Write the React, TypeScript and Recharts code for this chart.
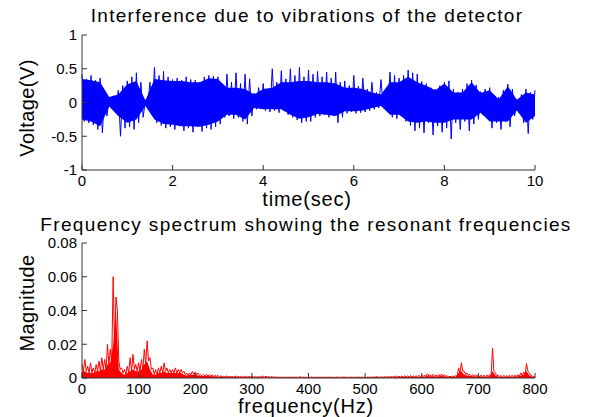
import { ComposedChart, Area, Line, XAxis, YAxis } from 'recharts';

// vibration signal, read at 0.1 s steps: tips of the spikes above and below (V)
const TIME_STEP = 0.1;
const SIGNAL_HIGH = [
  0.42, 0.35, 0.4, 0.33, 0.36, 0.15, 0.08, 0.1, 0.18, 0.25,
  0.32, 0.38, 0.44, 0.3, 0.04, 0.3, 0.52, 0.4, 0.46, 0.38,
  0.34, 0.36, 0.33, 0.38, 0.34, 0.33, 0.3, 0.38, 0.4, 0.39,
  0.38, 0.22, 0.42, 0.3, 0.44, 0.28, 0.42, 0.35, 0.14, 0.22,
  0.28, 0.2, 0.5, 0.3, 0.47, 0.35, 0.5, 0.4, 0.52, 0.38,
  0.48, 0.42, 0.46, 0.38, 0.45, 0.36, 0.45, 0.3, 0.32, 0.25,
  0.4, 0.24, 0.36, 0.2, 0.3, 0.15, 0.34, 0.18, 0.45, 0.4,
  0.36, 0.4, 0.48, 0.44, 0.42, 0.31, 0.28, 0.22, 0.2, 0.25,
  0.3, 0.32, 0.2, 0.15, 0.2, 0.28, 0.33, 0.26, 0.16, 0.2,
  0.22, 0.1, 0.08, 0.18, 0.27, 0.2, 0.04, 0.12, 0.2, 0.15,
  0.18,
];
const SIGNAL_LOW = [
  -0.28, -0.3, -0.33, -0.4, -0.45, -0.2, -0.08, -0.1, -0.5, -0.38,
  -0.36, -0.4, -0.3, -0.22, -0.06, -0.18, -0.3, -0.34, -0.38, -0.36,
  -0.4, -0.35, -0.42, -0.38, -0.44, -0.36, -0.43, -0.38, -0.4, -0.36,
  -0.32, -0.22, -0.2, -0.24, -0.22, -0.28, -0.32, -0.2, -0.1, -0.06,
  -0.12, -0.14, -0.12, -0.15, -0.12, -0.18, -0.22, -0.26, -0.3, -0.28,
  -0.28, -0.22, -0.2, -0.18, -0.22, -0.2, -0.3, -0.22, -0.16, -0.14,
  -0.16, -0.15, -0.14, -0.12, -0.1, -0.08, -0.06, -0.08, -0.22, -0.24,
  -0.2, -0.28, -0.34, -0.42, -0.38, -0.45, -0.3, -0.48, -0.35, -0.44,
  -0.38, -0.54, -0.3, -0.4, -0.28, -0.42, -0.32, -0.25, -0.18, -0.22,
  -0.38, -0.3, -0.4, -0.28, -0.36, -0.2, -0.15, -0.3, -0.46, -0.25,
  -0.3,
];

// solid core of the trace, read at 0.2 s steps (V)
const CORE_STEP = 0.2;
const CORE_HIGH = [
  0.35, 0.33, 0.3, 0.08, 0.12, 0.27, 0.32, 0.03, 0.35, 0.33,
  0.32, 0.32, 0.3, 0.3, 0.36, 0.35, 0.22, 0.22, 0.2, 0.12,
  0.2, 0.22, 0.3, 0.3, 0.32, 0.32, 0.3, 0.3, 0.28, 0.22,
  0.22, 0.2, 0.15, 0.12, 0.3, 0.3, 0.38, 0.3, 0.25, 0.18,
  0.28, 0.15, 0.15, 0.3, 0.14, 0.18, 0.05, 0.24, 0.04, 0.15,
  0.12,
];
const CORE_LOW = [
  -0.25, -0.28, -0.35, -0.06, -0.2, -0.3, -0.25, -0.05, -0.25, -0.32,
  -0.33, -0.35, -0.35, -0.36, -0.33, -0.28, -0.18, -0.18, -0.25, -0.08,
  -0.1, -0.1, -0.1, -0.18, -0.24, -0.22, -0.17, -0.18, -0.2, -0.13,
  -0.13, -0.12, -0.08, -0.05, -0.18, -0.18, -0.28, -0.3, -0.28, -0.3,
  -0.3, -0.25, -0.25, -0.25, -0.15, -0.28, -0.28, -0.28, -0.12, -0.3,
  -0.2,
];

// spectrum, read at 5 Hz steps: peak and solid floor of the trace
const FREQ_STEP = 5;
const SPECTRUM_PEAK = [
  0.008, 0.011, 0.007, 0.009, 0.006, 0.008, 0.01, 0.012, 0.011, 0.02,
  0.017, 0.06, 0.048, 0.01, 0.006, 0.005, 0.007, 0.012, 0.014, 0.008,
  0.009, 0.011, 0.017, 0.022, 0.012, 0.006, 0.005, 0.006, 0.007, 0.009,
  0.006, 0.005, 0.005, 0.006, 0.005, 0.005, 0.004, 0.003, 0.003, 0.004,
  0.0035, 0.003, 0.002, 0.002, 0.0022, 0.002, 0.0018, 0.0015, 0.0015, 0.0012,
  0.001, 0.0012, 0.001, 0.001, 0.0012, 0.001, 0.0009, 0.001, 0.0011, 0.0009,
  0.001, 0.0008, 0.0009, 0.001, 0.0012, 0.0011, 0.0008, 0.0009, 0.0007, 0.0006,
  0.0006, 0.0005, 0.0006, 0.0005, 0.0006, 0.0005, 0.0005, 0.0008, 0.0006, 0.0005,
  0.0005, 0.0006, 0.0005, 0.0005, 0.0006, 0.0005, 0.0005, 0.0006, 0.0005, 0.0005,
  0.0006, 0.0005, 0.0006, 0.0005, 0.0005, 0.0006, 0.0005, 0.0006, 0.0005, 0.0006,
  0.0005, 0.0006, 0.0005, 0.0006, 0.0009, 0.0006, 0.0007, 0.0008, 0.0008, 0.0009,
  0.001, 0.0012, 0.001, 0.0011, 0.0013, 0.0012, 0.0014, 0.0012, 0.0013, 0.0015,
  0.0016, 0.0018, 0.0025, 0.002, 0.0022, 0.0018, 0.002, 0.0024, 0.0019, 0.0012,
  0.001, 0.0012, 0.0015, 0.006, 0.009, 0.004, 0.003, 0.0022, 0.0018, 0.002,
  0.0016, 0.0018, 0.0015, 0.0017, 0.002, 0.0176, 0.003, 0.0016, 0.0014, 0.0015,
  0.0013, 0.0016, 0.0015, 0.0018, 0.002, 0.003, 0.0035, 0.0085, 0.003, 0.0012,
  0.001,
];
const SPECTRUM_FLOOR = [
  0.004, 0.004, 0.003, 0.003, 0.003, 0.004, 0.004, 0.005, 0.005, 0.008,
  0.009, 0.02, 0.04, 0.005, 0.003, 0.002, 0.003, 0.004, 0.005, 0.004,
  0.004, 0.005, 0.008, 0.01, 0.005, 0.002, 0.002, 0.003, 0.003, 0.004,
  0.003, 0.003, 0.003, 0.003, 0.003, 0.003, 0.002, 0.0015, 0.002, 0.002,
  0.002, 0.0015, 0.0012, 0.0012, 0.0012, 0.0012, 0.001, 0.001, 0.0008, 0.0008,
  0.0006, 0.0006, 0.0006, 0.0005, 0.0006, 0.0005, 0.0005, 0.0005, 0.0005, 0.0005,
  0.0005, 0.0004, 0.0004, 0.0005, 0.0005, 0.0005, 0.0004, 0.0004, 0.0003, 0.0003,
  0.0003, 0.0003, 0.0003, 0.0003, 0.0003, 0.0003, 0.0003, 0.0003, 0.0003, 0.0003,
  0.0003, 0.0003, 0.0003, 0.0003, 0.0003, 0.0003, 0.0003, 0.0003, 0.0003, 0.0003,
  0.0003, 0.0003, 0.0003, 0.0003, 0.0003, 0.0003, 0.0003, 0.0003, 0.0003, 0.0003,
  0.0003, 0.0003, 0.0003, 0.0004, 0.0004, 0.0004, 0.0004, 0.0004, 0.0005, 0.0005,
  0.0005, 0.0006, 0.0006, 0.0006, 0.0007, 0.0006, 0.0007, 0.0007, 0.0007, 0.0008,
  0.0008, 0.0009, 0.0012, 0.001, 0.0011, 0.0009, 0.001, 0.0012, 0.001, 0.0007,
  0.0006, 0.0007, 0.0008, 0.003, 0.004, 0.002, 0.0015, 0.0012, 0.001, 0.001,
  0.0009, 0.001, 0.0008, 0.0009, 0.001, 0.004, 0.0015, 0.0009, 0.0008, 0.0008,
  0.0008, 0.0009, 0.0008, 0.001, 0.0011, 0.0015, 0.002, 0.004, 0.0015, 0.0007,
  0.0006,
];

const TIME_TICKS = [0, 2, 4, 6, 8, 10];
const VOLT_TICKS = [-1, -0.5, 0, 0.5, 1];
const FREQ_TICKS = [0, 100, 200, 300, 400, 500, 600, 700, 800];
const MAG_TICKS = [0, 0.02, 0.04, 0.06, 0.08];

// the spikes are drawn as a zigzag between the upper and lower tips
const spikeData = SIGNAL_HIGH.flatMap((hi, i) => {
  const t = i * TIME_STEP;
  const pts = [{ t, v: hi }];
  if (t + TIME_STEP / 2 <= 10) pts.push({ t: t + TIME_STEP / 2, v: SIGNAL_LOW[i] });
  return pts;
});
const coreData = CORE_HIGH.map((hi, i) => ({ t: i * CORE_STEP, hi, lo: CORE_LOW[i] }));

const peakData = SPECTRUM_PEAK.flatMap((pk, i) => {
  const f = i * FREQ_STEP;
  const pts = [{ f, m: pk }];
  if (f + FREQ_STEP / 2 <= 800) pts.push({ f: f + FREQ_STEP / 2, m: SPECTRUM_FLOOR[i] });
  return pts;
});
const floorData = SPECTRUM_FLOOR.map((fl, i) => ({ f: i * FREQ_STEP, fl }));

const FONT = '"Liberation Sans", Arial, sans-serif';
const AXIS = '#333';
const tickStyle = { fontSize: 15, fill: '#000', fontFamily: FONT };

function Label({ x, y, size, text, rotate, spacing = 0 }: { x: number; y: number; size: number; text: string; rotate?: boolean; spacing?: number }) {
  return (
    <div
      style={{
        position: 'absolute',
        left: x,
        top: y,
        fontFamily: FONT,
        fontSize: size,
        letterSpacing: spacing,
        color: '#000',
        whiteSpace: 'nowrap',
        lineHeight: 0.9,
        transform: `translate(-50%, -50%)${rotate ? ' rotate(-90deg)' : ''}`,
      }}
    >
      {text}
    </div>
  );
}

export default function App() {
  return (
    <div style={{ position: 'absolute', left: 0, top: 0, width: 591, height: 417, background: '#fff', overflow: 'hidden' }}>
      <div style={{ position: 'absolute', left: 0, top: 0 }}>
        <ComposedChart width={591} height={210} margin={{ top: 35, right: 56, bottom: 10, left: 32 }}>
          <XAxis xAxisId="b" dataKey="t" type="number" domain={[0, 10]} ticks={TIME_TICKS} interval={0}
            height={30} tickSize={-5} tickMargin={10} tick={tickStyle} stroke={AXIS} />
          <XAxis xAxisId="top" orientation="top" dataKey="t" type="number" domain={[0, 10]} ticks={TIME_TICKS}
            interval={0} height={0} tickSize={-5} tick={false} stroke={AXIS} />
          <YAxis yAxisId="l" type="number" domain={[-1, 1]} ticks={VOLT_TICKS} interval={0}
            width={50} tickSize={-5} tickMargin={10} tick={tickStyle} stroke={AXIS} />
          <YAxis yAxisId="r" orientation="right" type="number" domain={[-1, 1]} ticks={VOLT_TICKS}
            interval={0} width={0} tickSize={-5} tick={false} stroke={AXIS} />
          <Area xAxisId="b" yAxisId="l" data={coreData} type="linear"
            dataKey={(d: { lo: number; hi: number }) => [d.lo, d.hi]}
            stroke="none" fill="#0000ff" fillOpacity={1} activeDot={false} isAnimationActive={false} />
          <Line xAxisId="b" yAxisId="l" data={spikeData} dataKey="v" stroke="#0000ff" strokeWidth={1}
            dot={false} activeDot={false} isAnimationActive={false} />
        </ComposedChart>
      </div>
      <div style={{ position: 'absolute', left: 0, top: 210 }}>
        <ComposedChart width={591} height={207} margin={{ top: 33, right: 56, bottom: 9, left: 32 }}>
          <XAxis xAxisId="b" dataKey="f" type="number" domain={[0, 800]} ticks={FREQ_TICKS} interval={0}
            height={30} tickSize={-5} tickMargin={10} tick={tickStyle} stroke={AXIS} />
          <XAxis xAxisId="top" orientation="top" dataKey="f" type="number" domain={[0, 800]} ticks={FREQ_TICKS}
            interval={0} height={0} tickSize={-5} tick={false} stroke={AXIS} />
          <YAxis yAxisId="l" type="number" domain={[0, 0.08]} ticks={MAG_TICKS} interval={0}
            width={50} tickSize={-5} tickMargin={10} tick={tickStyle} stroke={AXIS}
            tickFormatter={(v: number) => (v === 0 ? '0' : v.toFixed(2))} />
          <YAxis yAxisId="r" orientation="right" type="number" domain={[0, 0.08]} ticks={MAG_TICKS}
            interval={0} width={0} tickSize={-5} tick={false} stroke={AXIS} />
          <Area xAxisId="b" yAxisId="l" data={floorData} type="linear" dataKey="fl" baseValue={0}
            stroke="none" fill="#ff0000" fillOpacity={1} activeDot={false} isAnimationActive={false} />
          <Line xAxisId="b" yAxisId="l" data={peakData} dataKey="m" stroke="#ff0000" strokeWidth={1}
            dot={false} activeDot={false} isAnimationActive={false} />
        </ComposedChart>
      </div>
      <Label x={307} y={16} size={19} spacing={1.3} text="Interference due to vibrations of the detector" />
      <Label x={307} y={199} size={20} spacing={0.8} text="time(sec)" />
      <Label x={27} y={108} size={20} spacing={0.4} text="Voltage(V)" rotate />
      <Label x={306} y={225} size={19} spacing={1.35} text="Frequency spectrum showing the resonant frequencies" />
      <Label x={306} y={406} size={20} spacing={0.8} text="frequency(Hz)" />
      <Label x={27} y={303} size={20} spacing={0.4} text="Magnitude" rotate />
    </div>
  );
}
